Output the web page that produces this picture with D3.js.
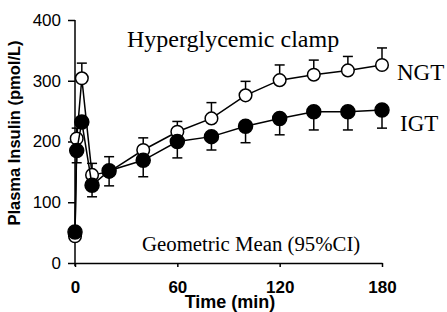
<!DOCTYPE html>
<html>
<head>
<meta charset="utf-8">
<script src="https://cdn.jsdelivr.net/npm/d3@7"></script>
<style>
  body { margin: 0; background: #fff; }
  svg { display: block; }
</style>
</head>
<body>
<svg id="chart" width="447" height="312"></svg>
<script>
// sampling times (min)
const times = [0, 1, 4, 10, 20, 40, 60, 80, 100, 120, 140, 160, 180];

// NGT - open circles, error bar upward (upper 95% CI)
const ngtMean  = [44, 205, 304, 145, 150, 186, 216, 238, 276, 301, 310, 317, 326];
const ngtUpper = [44, 222, 329, 164, 175, 206, 233, 264, 299, 326, 334, 340, 354];

// IGT - filled circles, error bar downward (lower 95% CI)
const igtMean  = [51, 185, 232, 128, 152, 169, 200, 208, 225, 238, 249, 249, 252];
const igtLower = [51, 165, 232, 109, 127, 142, 173, 186, 198, 211, 219, 219, 222];

const xTicks = [0, 60, 120, 180];
const yTicks = [0, 100, 200, 300, 400];

const svg = d3.select("#chart");

const x = d3.scaleLinear().domain([0, 180]).range([75, 382]);
const y = d3.scaleLinear().domain([0, 400]).range([263, 20]);

const serif = "'Liberation Serif', 'Times New Roman', serif";
const sans = "'Liberation Sans', Arial, sans-serif";

// axes
let yAxis = svg.append("g")
  .attr("transform", "translate(75,0)")
  .call(d3.axisLeft(y).tickValues(yTicks).tickSize(7).tickSizeOuter(0).tickPadding(7));
yAxis.select(".domain").attr("d", "M0," + y(400) + "V" + (y(0) + 3));

let xAxis = svg.append("g")
  .attr("transform", "translate(0,263)")
  .call(d3.axisBottom(x).tickValues(xTicks).tickSize(4).tickSizeOuter(0).tickPadding(14));

svg.selectAll(".domain, .tick line").attr("stroke", "#000").attr("stroke-width", 1.5);
yAxis.selectAll("text").attr("font-family", sans).attr("font-size", 17).attr("fill", "#000");
xAxis.selectAll("text").attr("font-family", sans).attr("font-size", 17).attr("font-weight", "bold").attr("fill", "#000");

// axis titles
svg.append("text")
  .attr("x", 230).attr("y", 308)
  .attr("text-anchor", "middle")
  .attr("font-family", sans).attr("font-size", 18).attr("font-weight", "bold")
  .text("Time (min)");

svg.append("text")
  .attr("transform", "translate(20,133) rotate(-90)")
  .attr("text-anchor", "middle")
  .attr("font-family", sans).attr("font-size", 16.5).attr("font-weight", "bold")
  .text("Plasma Insulin (pmol/L)");

function drawSeries(mean, bound, filled)
{
  let pts = times.map((t, i) => ({t: t, v: mean[i], b: bound[i]}));
  let g = svg.append("g");

  // error bars
  pts.forEach(p => {
    if (p.b === p.v) return;
    g.append("line")
      .attr("x1", x(p.t)).attr("x2", x(p.t))
      .attr("y1", y(p.v)).attr("y2", y(p.b))
      .attr("stroke", "#000").attr("stroke-width", 1.5);
    g.append("line")
      .attr("x1", x(p.t) - 5).attr("x2", x(p.t) + 5)
      .attr("y1", y(p.b)).attr("y2", y(p.b))
      .attr("stroke", "#000").attr("stroke-width", 1.5);
  });

  g.append("path")
    .datum(pts)
    .attr("fill", "none")
    .attr("stroke", "#000")
    .attr("stroke-width", 1.5)
    .attr("d", d3.line().x(d => x(d.t)).y(d => y(d.v)));

  g.selectAll("circle")
    .data(pts)
    .join("circle")
    .attr("cx", d => x(d.t))
    .attr("cy", d => y(d.v))
    .attr("r", filled ? 7 : 6.3)
    .attr("fill", filled ? "#000" : "#fff")
    .attr("stroke", "#000")
    .attr("stroke-width", 1.5);
}

drawSeries(ngtMean, ngtUpper, false);
drawSeries(igtMean, igtLower, true);

// labels
svg.append("text")
  .attr("x", 127).attr("y", 47)
  .attr("font-family", serif).attr("font-size", 24)
  .text("Hyperglycemic clamp");

svg.append("text")
  .attr("x", 397).attr("y", 80)
  .attr("font-family", serif).attr("font-size", 23)
  .text("NGT");

svg.append("text")
  .attr("x", 400).attr("y", 131)
  .attr("font-family", serif).attr("font-size", 23)
  .text("IGT");

svg.append("text")
  .attr("x", 142).attr("y", 251)
  .attr("font-family", serif).attr("font-size", 20.8)
  .text("Geometric Mean (95%CI)");
</script>
</body>
</html>
